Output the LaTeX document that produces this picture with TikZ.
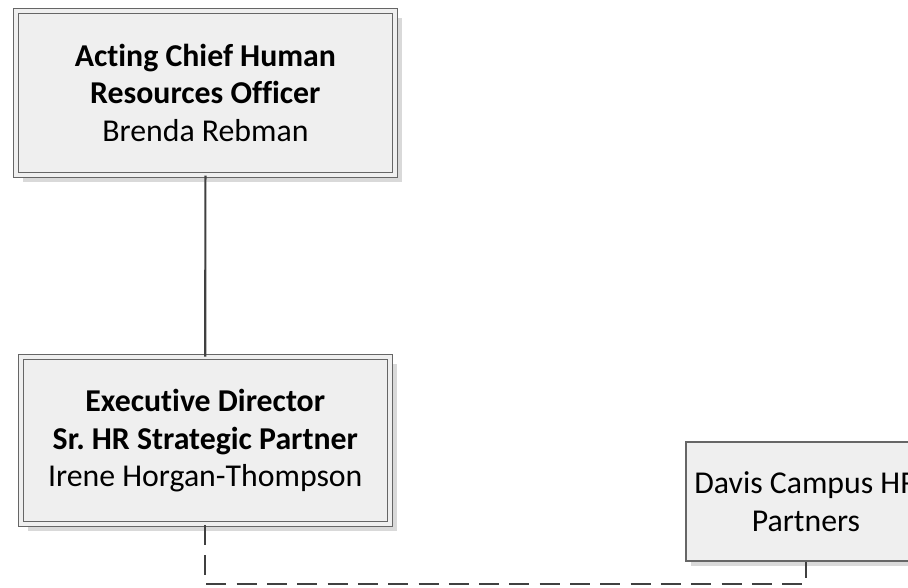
\documentclass[tikz,border=0pt]{standalone}
\usepackage{fontspec}
\setmainfont{Carlito}[Ligatures=NoCommon]
\usepackage{tikz}
\usetikzlibrary{shadows,calc}
\definecolor{boxfill}{HTML}{EFEFEF}
\definecolor{boxline}{HTML}{666666}
\definecolor{shade}{HTML}{D9D9D9}
\definecolor{linkline}{HTML}{404040}
\frenchspacing

\begin{document}
\begin{tikzpicture}
[x=1pt, y=-1pt,
 post/.style={draw=boxline, line width=1.2pt, fill=boxfill, align=center, inner sep=0pt, font=\fontsize{31.8}{37.5}\selectfont},
 double post/.style={post, double=boxfill, double distance=3.8pt, drop shadow={shadow xshift=7pt, shadow yshift=-7pt, fill=shade, opacity=1}},
 single post/.style={post, drop shadow={shadow xshift=5pt, shadow yshift=-5pt, fill=shade, opacity=1}},
 link/.style={draw=linkline, line width=2.2pt}]
    \useasboundingbox (0,0) rectangle (908,587);
    \clip (0,0) rectangle (908,587);
    \node[double post, minimum width=379pt, minimum height=164pt] (chro) at (205.4,92.9)
        {\textbf{Acting Chief Human}\\\textbf{Resources Officer}\\Brenda Rebman};
    \node[double post, minimum width=369pt, minimum height=167pt] (exec) at (205.3,440.7)
        {\textbf{Executive Director}\\\textbf{Sr.\ HR Strategic Partner}\\Irene Horgan-Thompson};
    \node[single post, minimum width=240pt, minimum height=119pt] (davis) at (806,501.5)
        {Davis Campus HR\\Partners};
    \coordinate (turn) at (806,584.3);
    \draw[link] (chro.south) -- (exec.north);
    \draw[link, dash pattern=on 20pt off 10.3pt] (exec.south) |- (turn) -- (davis.south);
\end{tikzpicture}
\end{document}
